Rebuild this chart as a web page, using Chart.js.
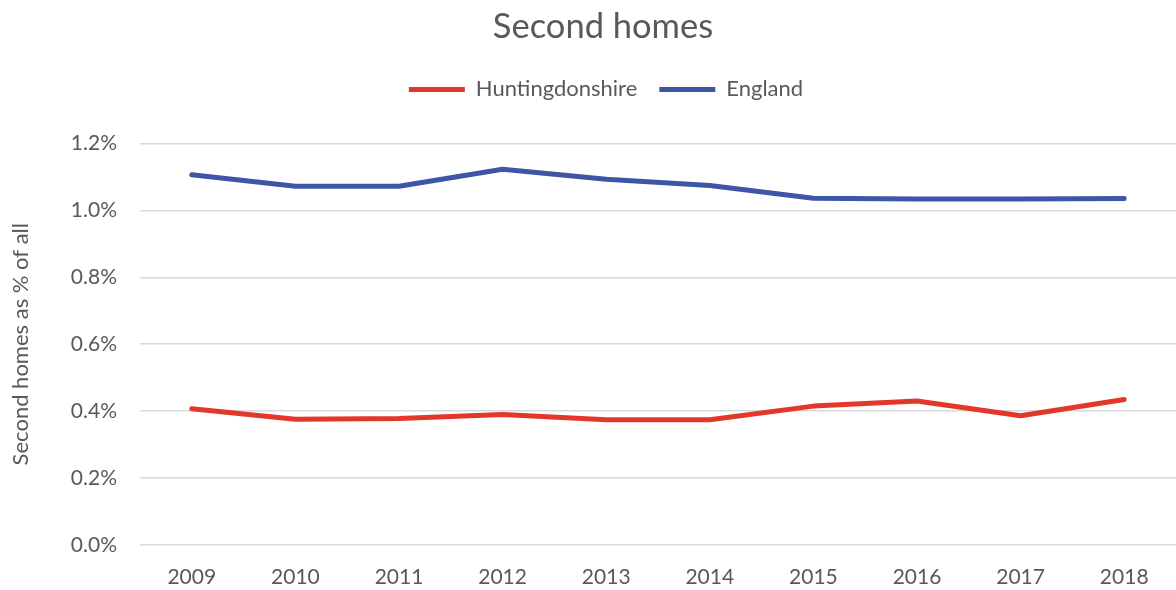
<!DOCTYPE html>
<html>
<head>
<meta charset="utf-8">
<script src="https://cdn.jsdelivr.net/npm/chart.js@4/dist/chart.umd.min.js"></script>
<style>
html,body{margin:0;padding:0;background:#fff;overflow:hidden;}
#wrap{width:1176px;height:590px;position:relative;}
</style>
</head>
<body>
<div id="wrap"><canvas id="c"></canvas></div>
<script>
const years = ['2009','2010','2011','2012','2013','2014','2015','2016','2017','2018'];
const huntingdonshire = [0.407,0.376,0.378,0.390,0.374,0.374,0.415,0.430,0.386,0.435];
const england = [1.106,1.072,1.072,1.123,1.093,1.074,1.036,1.034,1.034,1.035];
const yTicks = [0,0.2,0.4,0.6,0.8,1.0,1.2];

const FONT = 'Lato, "Open Sans", sans-serif';
const GREY = '#595959';

const headerTweak = {
  id:'headerTweak',
  beforeLayout(chart){
    const lg = chart.legend;
    if (lg && !lg._gapPatched){
      const orig = lg.fit.bind(lg);
      lg.fit = function(){ orig(); this.height += 33; };
      lg._gapPatched = true;
    }
  },
  afterLayout(chart){
    const lg = chart.legend, tb = chart.titleBlock;
    if (lg){ lg.left += 16; lg.right += 16; }
    if (tb){ tb.left += 13; tb.right += 13; }
  }
};

new Chart(document.getElementById('c'), {
  type: 'line',
  data: {
    labels: years,
    datasets: [
      {label:'Huntingdonshire', data:huntingdonshire, borderColor:'#E3372A', backgroundColor:'#E3372A', borderWidth:5, pointRadius:0, tension:0, borderCapStyle:'round', borderJoinStyle:'round'},
      {label:'England', data:england, borderColor:'#3E56A6', backgroundColor:'#3E56A6', borderWidth:5, pointRadius:0, tension:0, borderCapStyle:'round', borderJoinStyle:'round'}
    ]
  },
  plugins:[headerTweak],
  options: {
    responsive:true, maintainAspectRatio:false, animation:false,
    layout:{padding:{left:0,right:-4,top:0,bottom:0}},
    plugins:{
      title:{display:true, text:'Second homes', color:GREY, font:{family:FONT, size:34.5, weight:'normal'}, padding:{top:6,bottom:9}},
      legend:{display:true, position:'top',
        labels:{color:GREY, font:{family:FONT, size:22}, boxWidth:56, boxHeight:5, padding:22,
          generateLabels(chart){
            return Chart.defaults.plugins.legend.labels.generateLabels(chart).map(l=>{l.lineWidth=0; return l;});
          }
        }
      },
      tooltip:{enabled:false}
    },
    scales:{
      x:{
        offset:true,
        afterFit(s){ s.height = 45; },
        grid:{display:false, drawTicks:false},
        border:{display:false},
        ticks:{color:GREY, font:{family:FONT, size:21}, padding:20, maxRotation:0}
      },
      y:{
        min:0, max:1.2,
        afterBuildTicks(s){ s.ticks = yTicks.map(v=>({value:v})); },
        afterFit(s){ s.width = 140; },
        grid:{color:'#D9D9D9', lineWidth:1.5, drawTicks:false},
        border:{display:false},
        ticks:{color:GREY, font:{family:FONT, size:21}, padding:23, callback:v=>v.toFixed(1)+'%'},
        title:{display:true, text:'Second homes as % of all', color:GREY, font:{family:FONT, size:22}, padding:{top:8,bottom:0}}
      }
    }
  }
});
</script>
</body>
</html>
